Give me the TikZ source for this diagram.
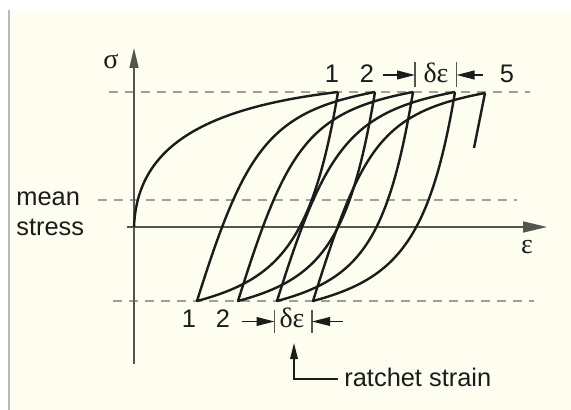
\documentclass[tikz,border=0pt]{standalone}
\usepackage{fontspec}
\setmainfont{Liberation Sans}
\newfontfamily\greekfont{Liberation Serif}
\usepackage{tikz}
\usetikzlibrary{positioning,arrows.meta,calc}
\definecolor{paper}{RGB}{253,253,240}
\definecolor{axisgray}{RGB}{85,85,80}
\definecolor{dashgray}{RGB}{160,160,150}
\definecolor{ink}{RGB}{28,28,28}

\begin{document}
\begin{tikzpicture}[
  x=0.5pt, y=-0.5pt,
  font=\fontsize{12.7}{15}\selectfont,
  axis/.style={draw=axisgray, line width=0.8pt},
  guide/.style={draw=dashgray, line width=1.2pt, dash pattern=on 4.5pt off 3.5pt},
  loopln/.style={draw=ink, line width=1.2pt, line join=round},
  dimarr/.style={-{Triangle[length=9pt, width=4.4pt]}, draw=ink, line width=0.7pt},
  bar/.style={draw=axisgray, line width=0.7pt},
  lbl/.style={inner sep=0pt, text=ink},
  greek/.style={lbl, font=\greekfont\fontsize{14}{15}\selectfont},
  ]
  \useasboundingbox (0,0) rectangle (571,410);
  \fill[white] (0,0) rectangle (571,410);
  \fill[paper] (9,10) rectangle (571,410);
  \draw[gray!55, line width=1pt] (8.5,10) -- (8.5,410);

  % dashed stress levels
  \draw[guide] (109,92) -- (530,92);
  \draw[guide] (98,200) -- (517,200);
  \draw[guide] (113,301) -- (534,301);

  % axes
  \coordinate (o) at (134,227);
  \coordinate (xs) at (127,227);
  \coordinate (xe) at (547,227);
  \coordinate (ys) at (134,364);
  \coordinate (ye) at (134,48);
  \draw[axis, -{Triangle[length=12pt, width=5.5pt]}] (xs) -- (xe);
  \draw[axis, -{Triangle[length=10pt, width=4.5pt]}] (ys) -- (ye);
  \node[greek] (sig) at (111,61) {σ};
  \node[greek] (eps) at (527,247) {ε};

  \node[lbl, anchor=base west] (mean) at (16,206) {mean};
  \node[lbl, anchor=base west] (stress) at (16,235.5) {stress};

  % turning points
  \coordinate (p1) at (338,92);
  \coordinate (p2) at (375,92);
  \coordinate (p3) at (413,92);
  \coordinate (p4) at (455,92);
  \coordinate (p5) at (485,93);
  \coordinate (v1) at (197,301);
  \coordinate (v2) at (238,301);
  \coordinate (v3) at (277,301);
  \coordinate (v4) at (313,301);
  \coordinate (e5) at (474,148);

  % stress-strain loops
  \draw[loopln] (o) .. controls +(3,-80) and +(-135,16) .. (p1);
  \foreach \i/\j in {1/2,2/3,3/4,4/5}
    \draw[loopln] (p\i) .. controls +(-25,150) and +(82,-22) .. (v\i)
                        .. controls +(48,-153) and +(-105,20) .. (p\j);
  \draw[loopln] (p5) -- (e5);

  % top cycle numbers
  \node[lbl, anchor=base] (top1) at (332,83) {1};
  \node[lbl, anchor=base] (top2) at (367,83) {2};
  \node[greek, anchor=base] (topde) at (436,83) {δε};
  \node[lbl, anchor=base] (top5) at (507,83) {5};
  \coordinate (tb1) at (415,62);
  \coordinate (tb2) at (456.5,62);
  \draw[bar] (tb1) -- ++(0,25);
  \draw[bar] (tb2) -- ++(0,25);
  \coordinate (ta1) at (383,75);
  \coordinate (ta2) at (483,75);
  \draw[dimarr] (ta1) -- (ta1 -| tb1);
  \draw[dimarr] (ta2) -- (ta2 -| tb2);

  % bottom cycle numbers
  \node[lbl, anchor=base] (bot1) at (189,328) {1};
  \node[lbl, anchor=base] (bot2) at (223,328) {2};
  \node[greek, anchor=base] (botde) at (292,328) {δε};
  \coordinate (bb1) at (274.5,310);
  \coordinate (bb2) at (312,310);
  \draw[bar] (bb1) -- ++(0,23);
  \draw[bar] (bb2) -- ++(0,23);
  \coordinate (ba1) at (242,321.5);
  \coordinate (ba2) at (343,321.5);
  \draw[dimarr] (ba1) -- (ba1 -| bb1);
  \draw[dimarr] (ba2) -- (ba2 -| bb2);

  % ratchet strain pointer
  \node[lbl, anchor=base west] (ratchet) at (344,386) {ratchet strain};
  \coordinate (rc) at (294,379);
  \coordinate (rtip) at (294,343);
  \draw[draw=ink, line width=0.7pt, -{Triangle[length=8pt, width=3.8pt]}]
    (ratchet.west |- rc) ++(-6,0) -- (rc) -- (rtip);
\end{tikzpicture}
\end{document}
